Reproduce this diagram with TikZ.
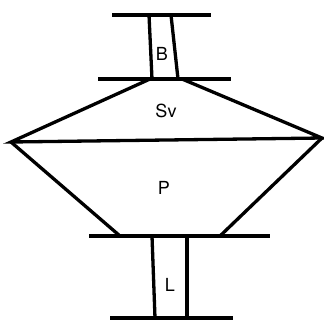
\documentclass[tikz,border=0pt]{standalone}
\usepackage{fontspec}
\setmainfont{TeX Gyre Heros}
\begin{document}
\begin{tikzpicture}[x=1pt,y=-1pt,
  ln/.style={line width=3.3pt,line cap=butt,line join=miter},
  lab/.style={font=\fontsize{18}{20}\selectfont,inner sep=0pt}]
\useasboundingbox (0,0) rectangle (324,330);
% coordinates
\coordinate (t1) at (112,15); \coordinate (t2) at (211,15);
\coordinate (bl1) at (149,15); \coordinate (bl2) at (152,79);
\coordinate (br1) at (171,15); \coordinate (br2) at (178,79);
\coordinate (m1) at (98,79); \coordinate (m2) at (231,79);
\coordinate (sl) at (150,79); \coordinate (sr) at (182,79);
\coordinate (pl) at (11,142); \coordinate (pr) at (322,138);
\coordinate (ql) at (120,236); \coordinate (qr) at (220,236);
\coordinate (n1) at (89,236); \coordinate (n2) at (270,236);
\coordinate (ll1) at (152,236); \coordinate (ll2) at (155,318);
\coordinate (lr1) at (187,236); \coordinate (lr2) at (187,318);
\coordinate (b1) at (110,318); \coordinate (b2) at (233,318);
% lines
\draw[ln] (t1) -- (t2);
\draw[ln] (bl1) -- (bl2);
\draw[ln] (br1) -- (br2);
\draw[ln] (m1) -- (m2);
\draw[ln] (sl) -- (pl) -- (pr) -- (sr);
\draw[ln] (pl) -- (ql);
\draw[ln] (pr) -- (qr);
\draw[ln] (n1) -- (n2);
\draw[ln] (ll1) -- (ll2);
\draw[ln] (lr1) -- (lr2);
\draw[ln] (b1) -- (b2);
% labels
\node[lab] (B) at (162,54) {B};
\node[lab] (Sv) at (166,111) {Sv};
\node[lab] (P) at (164,188) {P};
\node[lab] (L) at (170,285) {L};
\end{tikzpicture}
\end{document}
